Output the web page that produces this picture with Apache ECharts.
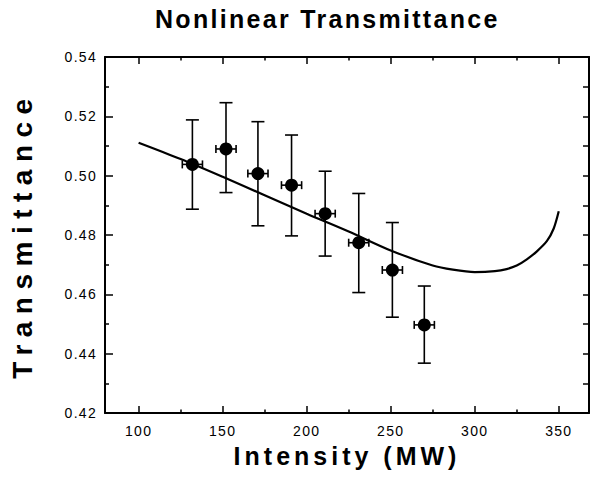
<!DOCTYPE html>
<html>
<head>
<meta charset="utf-8">
<script src="https://cdn.jsdelivr.net/npm/echarts@6/dist/echarts.min.js"></script>
<style>
  html, body { margin: 0; padding: 0; background: #fff; }
  #main { width: 592px; height: 481px; }
</style>
</head>
<body>
<div id="main"></div>
<script>
// measured points with error bars
var intensity = [132, 152, 171, 191, 211, 231, 251, 270];
var transmittance = [0.5038, 0.5090, 0.5007, 0.4968, 0.4872, 0.4774, 0.4682, 0.4497];
var errUpper = [0.5188, 0.5246, 0.5182, 0.5137, 0.5015, 0.4940, 0.4842, 0.4628];
var errLower = [0.4887, 0.4943, 0.4831, 0.4797, 0.4729, 0.4606, 0.4523, 0.4368];
var xErr = [6, 6, 6, 6, 6, 6, 6, 6];

// fitted curve
var curveX = [100, 125, 150, 175, 200, 225, 250, 275, 287, 300, 312, 319, 325, 331, 337, 343, 347, 350];
var curveY = [0.5111, 0.5056, 0.4996, 0.4934, 0.4872, 0.4812, 0.4748, 0.4697, 0.4683, 0.4675, 0.4678, 0.4685, 0.4697, 0.4718, 0.4745, 0.4780, 0.4822, 0.4880];

// ticks
var xTicks = [100, 150, 200, 250, 300, 350];
var xMinorTicks = [125, 175, 225, 275, 325];

var font = 'Liberation Sans, Arial, Helvetica, sans-serif';

var myChart = echarts.init(document.getElementById('main'), null, { renderer: 'svg' });

var pts = [], bars = [], curve = [];
for (var i in intensity) {
    pts.push([intensity[i], transmittance[i]]);
    bars.push([intensity[i], transmittance[i], errLower[i], errUpper[i], xErr[i]]);
}
for (var j in curveX) {
    curve.push([curveX[j], curveY[j]]);
}

function renderErr(params, api) {
    var x = api.value(0), y = api.value(1);
    var lo = api.coord([x, api.value(2)]);
    var hi = api.coord([x, api.value(3)]);
    var left = api.coord([x - api.value(4), y]);
    var right = api.coord([x + api.value(4), y]);
    var st = { stroke: '#000', lineWidth: 1.6 };
    var cw = 6.5, ch = 4;
    return {
        type: 'group',
        children: [
            { type: 'line', shape: { x1: lo[0], y1: lo[1], x2: hi[0], y2: hi[1] }, style: st },
            { type: 'line', shape: { x1: hi[0] - cw, y1: hi[1], x2: hi[0] + cw, y2: hi[1] }, style: st },
            { type: 'line', shape: { x1: lo[0] - cw, y1: lo[1], x2: lo[0] + cw, y2: lo[1] }, style: st },
            { type: 'line', shape: { x1: left[0], y1: left[1], x2: right[0], y2: right[1] }, style: st },
            { type: 'line', shape: { x1: left[0], y1: left[1] - ch, x2: left[0], y2: left[1] + ch }, style: st },
            { type: 'line', shape: { x1: right[0], y1: right[1] - ch, x2: right[0], y2: right[1] + ch }, style: st }
        ]
    };
}

var axisLine = { show: true, lineStyle: { color: '#000', width: 2 } };

var option = {
    animation: false,
    backgroundColor: '#fff',
    title: {
        text: 'Nonlinear Transmittance',
        left: 150,
        top: 1,
        textStyle: { fontFamily: font, fontSize: 25, fontWeight: 'bold', color: '#000' }
    },
    grid: { left: 103, right: 3, top: 57, bottom: 68 },
    xAxis: [{
        type: 'value',
        position: 'bottom',
        min: 80,
        max: 368,
        axisLine: axisLine,
        axisTick: { inside: true, length: 7, customValues: xTicks, lineStyle: { color: '#000', width: 1.5 } },
        axisLabel: { customValues: xTicks, color: '#000', fontSize: 14, margin: 11, fontFamily: font },
        splitLine: { show: false },
        name: 'Intensity (MW)',
        nameLocation: 'middle',
        nameGap: 30,
        nameTextStyle: { fontFamily: font, fontSize: 25, fontWeight: 'bold', color: '#000' }
    }, {
        type: 'value',
        position: 'bottom',
        min: 80,
        max: 368,
        axisLine: { show: false },
        axisTick: { inside: true, length: 3.5, customValues: xMinorTicks, lineStyle: { color: '#000', width: 1.5 } },
        axisLabel: { show: false },
        splitLine: { show: false }
    }, {
        type: 'value',
        position: 'top',
        min: 80,
        max: 368,
        axisLine: axisLine,
        axisTick: { inside: true, length: 7, customValues: xTicks, lineStyle: { color: '#000', width: 1.5 } },
        axisLabel: { show: false },
        splitLine: { show: false }
    }, {
        type: 'value',
        position: 'top',
        min: 80,
        max: 368,
        axisLine: { show: false },
        axisTick: { inside: true, length: 3.5, customValues: xMinorTicks, lineStyle: { color: '#000', width: 1.5 } },
        axisLabel: { show: false },
        splitLine: { show: false }
    }],
    yAxis: [{
        type: 'value',
        position: 'left',
        min: 0.42,
        max: 0.54,
        interval: 0.02,
        axisLine: axisLine,
        axisTick: { inside: true, length: 8, lineStyle: { color: '#000', width: 1.5 } },
        minorTick: { show: true, splitNumber: 2, length: 4, lineStyle: { color: '#000', width: 1.5 } },
        axisLabel: {
            color: '#000', fontSize: 14, margin: 8, fontFamily: font,
            formatter: function (v) { return v.toFixed(2); }
        },
        splitLine: { show: false },
        name: 'Transmittance',
        nameLocation: 'middle',
        nameRotate: 90,
        nameGap: 69,
        nameTextStyle: { fontFamily: font, fontSize: 28, fontWeight: 'bold', color: '#000' }
    }, {
        type: 'value',
        position: 'right',
        min: 0.42,
        max: 0.54,
        interval: 0.01,
        axisLine: axisLine,
        axisTick: { inside: true, length: 6, lineStyle: { color: '#000', width: 1.5 } },
        axisLabel: { show: false },
        splitLine: { show: false }
    }],
    series: [{
        name: 'fit',
        type: 'line',
        data: curve,
        smooth: 0.3,
        showSymbol: false,
        lineStyle: { color: '#000', width: 2.2 },
        z: 2
    }, {
        name: 'err',
        type: 'custom',
        data: bars,
        renderItem: renderErr,
        z: 3
    }, {
        name: 'data',
        type: 'scatter',
        data: pts,
        symbol: 'circle',
        symbolSize: 13,
        itemStyle: { color: '#000', opacity: 1 },
        z: 4
    }]
};

myChart.setOption(option);

// the printed figure has wide letter spacing
function spacing() {
    var texts = document.querySelectorAll('#main text');
    for (var k = 0; k < texts.length; k++) {
        var t = texts[k].textContent;
        if (t === 'Nonlinear Transmittance') texts[k].style.letterSpacing = '2.3px';
        else if (t === 'Transmittance') texts[k].style.letterSpacing = '7.5px';
        else if (t === 'Intensity (MW)') texts[k].style.letterSpacing = '4px';
        else texts[k].style.letterSpacing = '1.3px';
    }
}
myChart.on('finished', spacing);
spacing();
</script>
</body>
</html>
